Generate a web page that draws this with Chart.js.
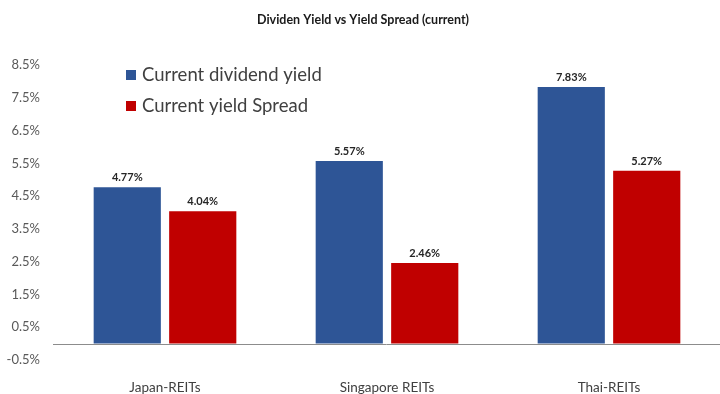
<!DOCTYPE html>
<html>
<head>
<meta charset="utf-8">
<title>Dividen Yield vs Yield Spread</title>
<script src="https://cdn.jsdelivr.net/npm/chart.js@4/dist/chart.umd.min.js"></script>
<style>
  html, body { margin: 0; padding: 0; background: #fff; }
  #wrap { position: relative; width: 720px; height: 394px; }
</style>
</head>
<body>
<div id="wrap"><canvas id="chart"></canvas></div>
<script>
const categories = ['Japan-REITs', 'Singapore REITs', 'Thai-REITs'];
const dividendYield = [4.77, 5.57, 7.83];
const yieldSpread = [4.04, 2.46, 5.27];
const seriesNames = ['Current dividend yield', 'Current yield Spread'];
const seriesColors = ['#2e5596', '#c00000'];

const FONT = 'Lato, "Open Sans", sans-serif';

// value labels above every bar
const barLabels = {
  id: 'barLabels',
  afterDatasetsDraw(chart) {
    const ctx = chart.ctx;
    ctx.save();
    ctx.font = 'bold 11px ' + FONT;
    ctx.fillStyle = '#262626';
    ctx.textAlign = 'center';
    ctx.textBaseline = 'bottom';
    chart.data.datasets.forEach((ds, i) => {
      chart.getDatasetMeta(i).data.forEach((bar, j) => {
        ctx.fillText(ds.data[j].toFixed(2) + '%', bar.x, bar.y - 4);
      });
    });
    ctx.restore();
  }
};

// horizontal axis line drawn at 0%
const zeroLine = {
  id: 'zeroLine',
  beforeDatasetsDraw(chart) {
    const { ctx, chartArea, scales } = chart;
    const y = Math.round(scales.y.getPixelForValue(0)) + 0.5;
    ctx.save();
    ctx.strokeStyle = '#8c8c8c';
    ctx.lineWidth = 1;
    ctx.beginPath();
    ctx.moveTo(chartArea.left - 1, y);
    ctx.lineTo(chart.width, y);
    ctx.stroke();
    ctx.restore();
  }
};

// legend sitting inside the plot, top left
const innerLegend = {
  id: 'innerLegend',
  afterDraw(chart) {
    const { ctx, chartArea } = chart;
    const x = chartArea.left + 72;
    let y = chartArea.top + 10;
    ctx.save();
    ctx.font = '18.5px ' + FONT;
    ctx.textBaseline = 'middle';
    chart.data.datasets.forEach(ds => {
      ctx.fillStyle = ds.backgroundColor;
      ctx.fillRect(x, y - 5, 10, 10);
      ctx.fillStyle = '#404040';
      ctx.fillText(ds.label, x + 16, y);
      y += 31;
    });
    ctx.restore();
  }
};

new Chart(document.getElementById('chart'), {
  type: 'bar',
  data: {
    labels: categories,
    datasets: [
      { label: seriesNames[0], data: dividendYield, backgroundColor: seriesColors[0] },
      { label: seriesNames[1], data: yieldSpread, backgroundColor: seriesColors[1] }
    ]
  },
  options: {
    responsive: true,
    maintainAspectRatio: false,
    devicePixelRatio: 1,
    animation: false,
    categoryPercentage: 0.68,
    barPercentage: 0.89,
    layout: { padding: { left: 6, right: 0, top: 0, bottom: 0 } },
    plugins: {
      legend: { display: false },
      tooltip: { enabled: false },
      title: {
        display: true,
        text: 'Dividen Yield vs Yield Spread (current)',
        color: '#1a1a1a',
        font: { family: FONT, size: 12.5, weight: 'bold' },
        padding: { top: 12, bottom: 38 }
      }
    },
    scales: {
      x: {
        grid: { display: false, drawTicks: false },
        border: { display: false },
        ticks: { color: '#404040', font: { family: FONT, size: 13.5 }, padding: 20 },
        afterFit(scale) { scale.height = 34; }
      },
      y: {
        min: -0.5,
        max: 8.5,
        grid: { display: false, drawTicks: false },
        border: { display: false },
        ticks: {
          stepSize: 1,
          padding: 14,
          color: '#595959',
          font: { family: FONT, size: 13 },
          callback: v => v.toFixed(1) + '%'
        },
        afterFit(scale) { scale.width = 48; }
      }
    }
  },
  plugins: [barLabels, zeroLine, innerLegend]
});
</script>
</body>
</html>
